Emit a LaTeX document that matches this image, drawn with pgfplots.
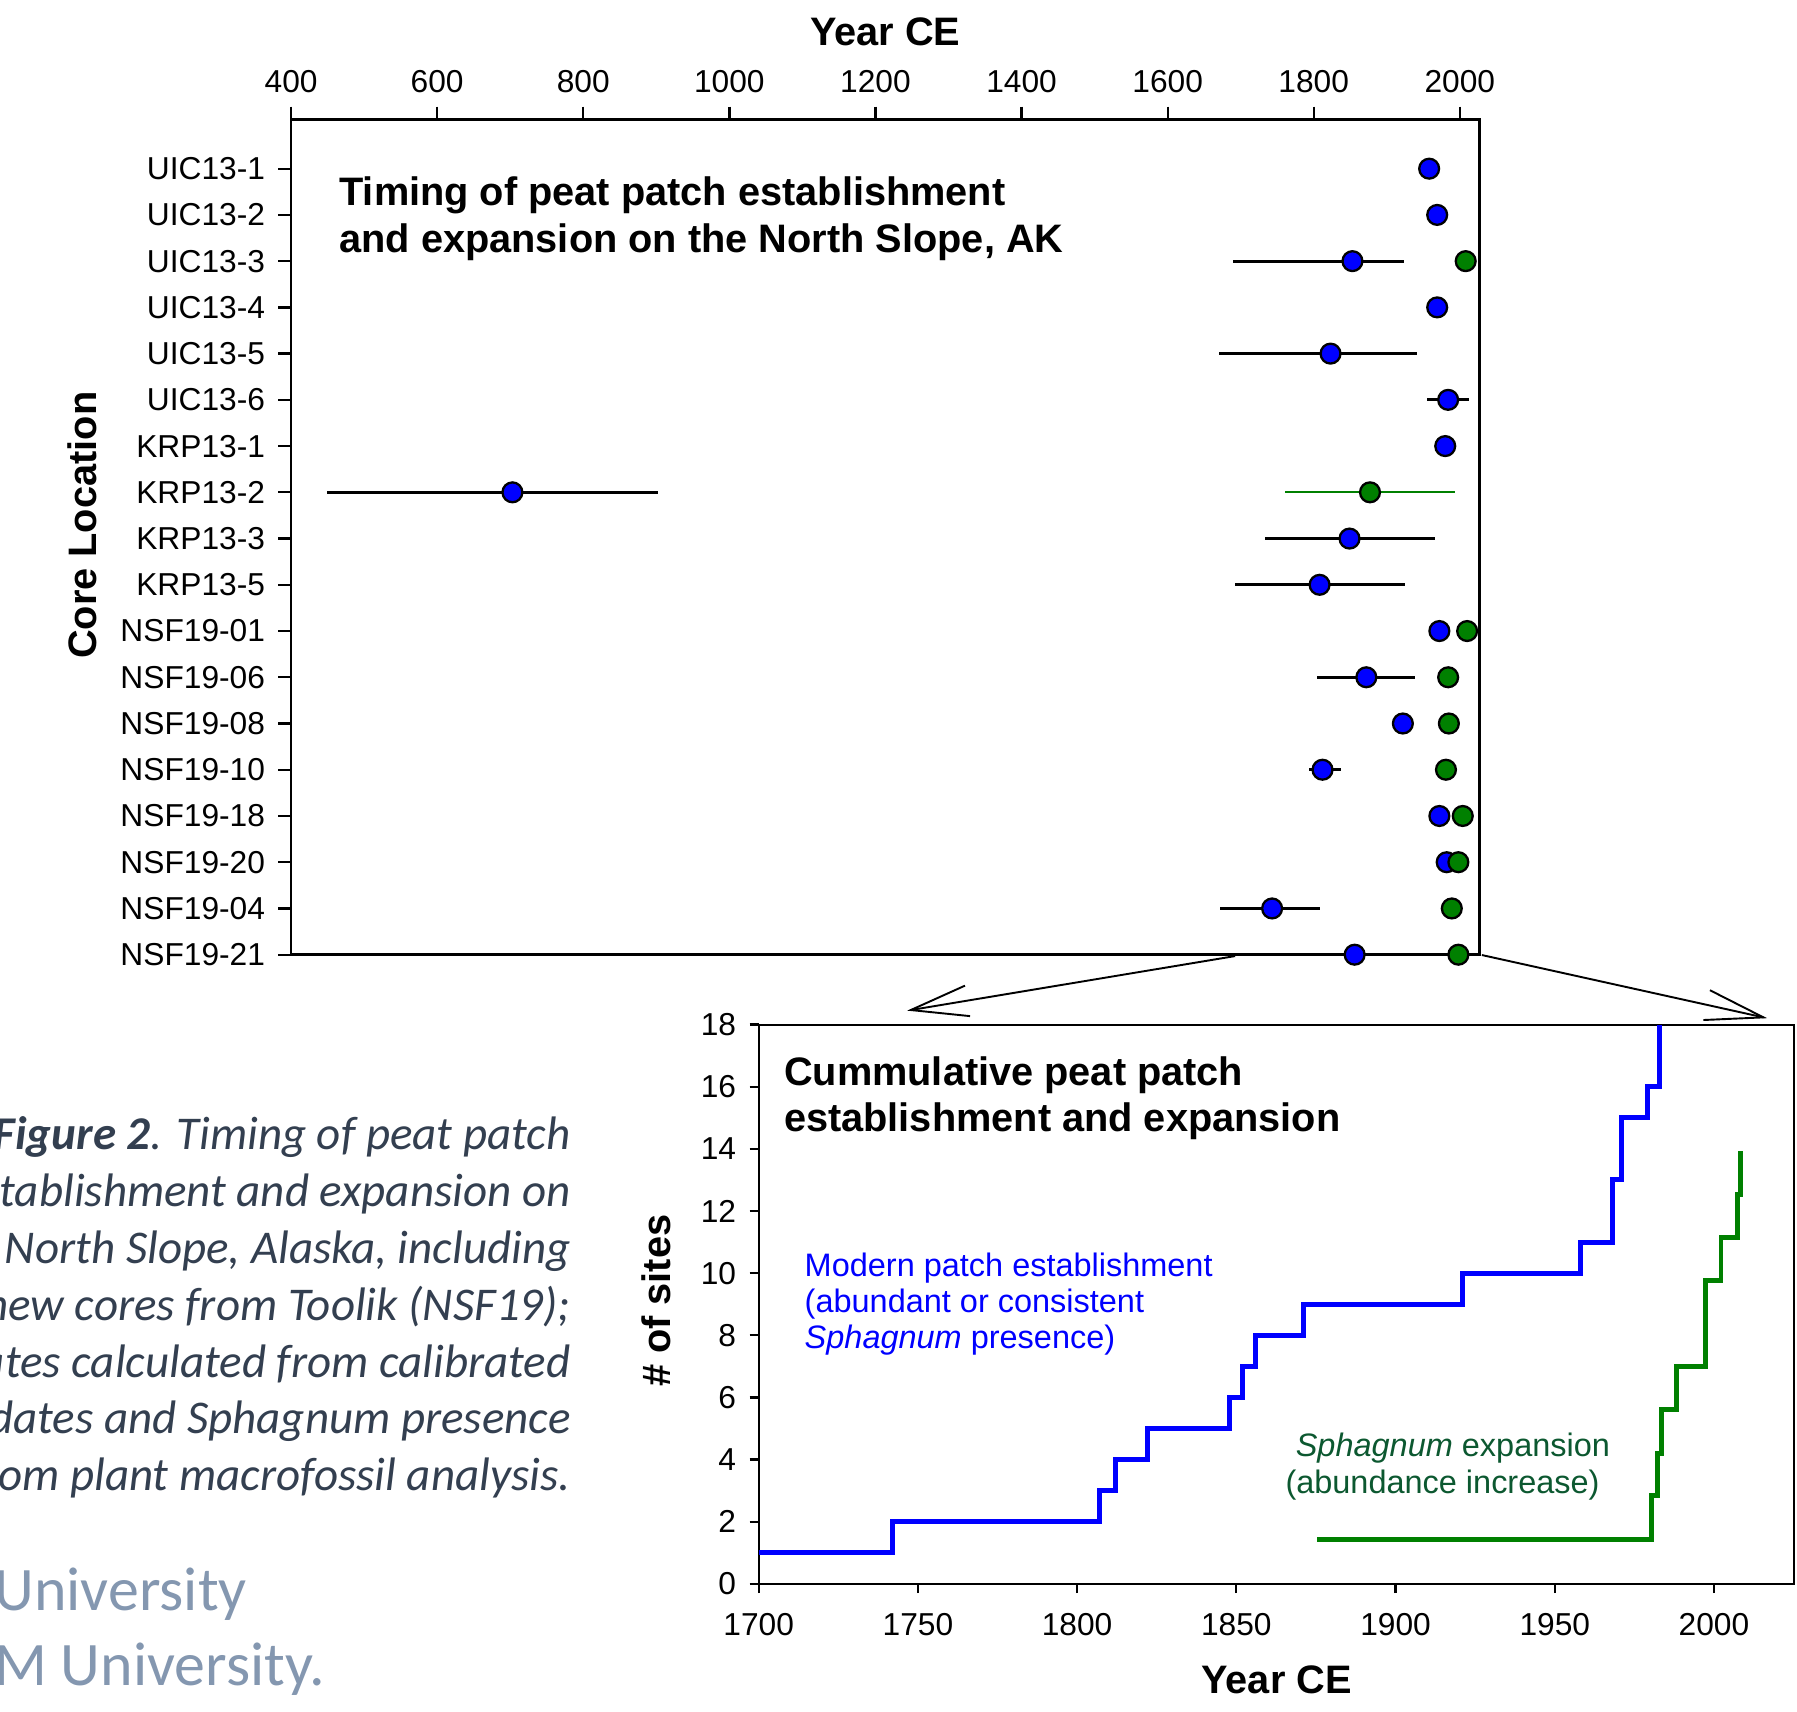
\documentclass[border=0pt]{standalone}
\usepackage{fontspec}
\setmainfont{Liberation Sans}
\newfontfamily\calibri{Carlito}
\usepackage{pgfplots}
\pgfplotsset{compat=1.18}

\definecolor{ptblue}{RGB}{0,0,255}
\definecolor{ptgreen}{RGB}{0,128,0}
\definecolor{txtgreen}{RGB}{12,88,48}
\definecolor{capgray}{RGB}{51,63,80}
\definecolor{unigray}{RGB}{132,151,176}

\pgfplotsset{
  /pgf/number format/.cd, 1000 sep={}, assume math mode=true,
}
\pgfplotsset{
  peat/.style={
    scale only axis, clip=false,
    tick align=outside,
    tick label style={font=\fontsize{8.3}{10}\selectfont},
    label style={font=\fontsize{10.4}{12}\selectfont\bfseries},
    every tick/.style={black, line width=0.6pt},
  },
  est/.style={only marks, mark=*, mark size=2.6pt,
    mark options={fill=ptblue, draw=black, line width=0.6pt}},
  exp/.style={only marks, mark=*, mark size=2.6pt,
    mark options={fill=ptgreen, draw=black, line width=0.6pt}},
}

\begin{document}
\begin{tikzpicture}
\useasboundingbox (0,0) rectangle (470.4pt,-447.9pt);
\begin{scope}
\clip (0,0) rectangle (470.4pt,-447.9pt);

% ---- top panel: dates per core ----
\begin{axis}[peat,
  at={(76.2pt,-31.2pt)}, anchor=north west,
  width=311.1pt, height=218.7pt,
  xmin=400, xmax=2027, ymin=-17, ymax=1.07,
  xtick={400,600,...,2000},
  xtick pos=right, xticklabel pos=right,
  ytick={0,-1,...,-17}, ytick pos=left,
  yticklabels={UIC13-1,UIC13-2,UIC13-3,UIC13-4,UIC13-5,UIC13-6,
    KRP13-1,KRP13-2,KRP13-3,KRP13-5,NSF19-01,NSF19-06,NSF19-08,
    NSF19-10,NSF19-18,NSF19-20,NSF19-04,NSF19-21},
  major tick length=3.3pt,
  axis line style={line width=0.7pt},
  xlabel={Year CE},
  xlabel style={at={(axis description cs:0.5,1.104)}, anchor=center},
  ylabel={Core Location},
  ylabel style={at={(axis description cs:-0.1755,0.514)}, anchor=center},
]
% error bars (calibrated age ranges)
\addplot[only marks, mark=none, error bars/.cd, x dir=both, x explicit,
  error mark=none, error bar style={draw=black, line width=0.8pt}]
  coordinates {
  (1853,-2)  += (70,0)  -= (163,0)
  (1823,-4)  += (119,0) -= (153,0)
  (1984,-5)  += (28,0)  -= (29,0)
  (703,-7)   += (199,0) -= (254,0)
  (1849,-8)  += (117,0) -= (116,0)
  (1808,-9)  += (117,0) -= (116,0)
  (1872,-11) += (67,0)  -= (67,0)
  (1812,-13) += (25,0)  -= (18,0)
  (1743,-16) += (66,0)  -= (72,0)
};
\addplot[only marks, mark=none, error bars/.cd, x dir=both, x explicit,
  error mark=none, error bar style={draw=ptgreen, line width=0.5pt}]
  coordinates {(1877,-7) += (117,0) -= (116,0)};
% modern patch establishment
\addplot[est] coordinates {
  (1958,0) (1969,-1) (1853,-2) (1969,-3) (1823,-4) (1984,-5)
  (1980,-6) (703,-7) (1849,-8) (1808,-9) (1972,-10) (1872,-11)
  (1922,-12) (1812,-13) (1972,-14) (1982,-15) (1743,-16) (1856,-17)
};
% Sphagnum expansion
\addplot[exp] coordinates {
  (2008,-2) (1877,-7) (2010,-10) (1984,-11) (1985,-12) (1981,-13)
  (2004,-14) (1998,-15) (1989,-16) (1998,-17)
};
\end{axis}

% ---- bottom panel: cumulative counts ----
\begin{axis}[peat,
  at={(198.6pt,-268.2pt)}, anchor=north west,
  width=270.9pt, height=146.4pt,
  xmin=1700, xmax=2025, ymin=0, ymax=18,
  xtick={1700,1750,...,2000}, ytick={0,2,...,18},
  xtick pos=left, ytick pos=left,
  xticklabel style={yshift=-1.8pt},
  major tick length=2.4pt,
  axis line style={line width=0.5pt},
  xlabel={Year CE},
  xlabel style={at={(axis description cs:0.5005,-0.172)}, anchor=center},
  ylabel={\# of sites},
  ylabel style={at={(axis description cs:-0.0986,0.506)}, anchor=center},
]
\addplot[const plot, ptblue, line width=1.3pt] coordinates {
  (1700,1) (1742,2) (1807,3) (1812,4) (1822,5) (1848,6) (1852,7)
  (1856,8) (1871,9) (1921,10) (1958,11) (1968,13) (1971,15)
  (1979,16) (1983,18)
};
\addplot[const plot, ptgreen, line width=1.3pt] coordinates {
  (1875.4,1.43) (1980.4,2.83) (1982.3,4.21) (1983.5,5.62) (1988.3,7.0)
  (1997.4,9.76) (2002.2,11.16) (2007.4,12.53) (2008.4,13.94)
};
\end{axis}

% ---- annotations, in reference pixel units ----
\begin{scope}[x=0.3pt, y=-0.3pt, inner sep=0pt]
  \node[anchor=base west, font=\fontsize{10.4}{12}\selectfont\bfseries]
    at (295.5,179.5) {Timing of peat patch establishment};
  \node[anchor=base west, font=\fontsize{10.4}{12}\selectfont\bfseries]
    at (295.5,220.7) {and expansion on the North Slope, AK};
  \node[anchor=base west, font=\fontsize{10.4}{12}\selectfont\bfseries]
    at (683.5,947.5) {Cummulative peat patch};
  \node[anchor=base west, font=\fontsize{10.4}{12}\selectfont\bfseries]
    at (683.5,987.5) {establishment and expansion};

  \begin{scope}[font=\fontsize{8.5}{10}\selectfont, text=ptblue]
    \node[anchor=base west] at (701.5,1114) {Modern patch establishment};
    \node[anchor=base west] at (701.5,1145) {(abundant or consistent};
    \node[anchor=base west] at (701.5,1176.5) {\textit{Sphagnum} presence)};
  \end{scope}
  \begin{scope}[font=\fontsize{8.5}{10}\selectfont, text=txtgreen]
    \node[anchor=base west] at (1130,1270.5) {\textit{Sphagnum} expansion};
    \node[anchor=base west] at (1121,1303.5) {(abundance increase)};
  \end{scope}

  % zoom connectors
  \draw[line width=0.5pt] (1077.7,834.2) -- (794.7,881.3);
  \draw[line width=0.5pt] (842,860) -- (794.7,881.3) -- (846.4,886.6);
  \draw[line width=0.5pt] (1293,833.3) -- (1538.7,887.7);
  \draw[line width=0.5pt] (1492,864) -- (1538.7,887.7) -- (1486.3,890);

  % slide caption, cut at the left edge as in the source
  \begin{scope}[font=\calibri\itshape\fontsize{12.3}{14}\selectfont, text=capgray]
    \node[anchor=base east] at (498.5,1002.7) {\textbf{Figure 2}. Timing of peat patch};
    \node[anchor=base east] at (498.5,1052.4) {establishment and expansion on};
    \node[anchor=base east] at (498.5,1102.1) {the North Slope, Alaska, including};
    \node[anchor=base east] at (498.5,1151.8) {new cores from Toolik (NSF19);};
    \node[anchor=base east] at (498.5,1201.5) {dates calculated from calibrated};
    \node[anchor=base east] at (498.5,1251.2) {dates and Sphagnum presence};
    \node[anchor=base east] at (498.5,1300.9) {from plant macrofossil analysis.};
  \end{scope}
  \begin{scope}[font=\calibri\fontsize{16.2}{19}\selectfont, text=unigray]
    \node[anchor=base east] at (216,1405) {University};
    \node[anchor=base east] at (284,1471) {A\&M University.};
  \end{scope}
\end{scope}
\end{scope}
\end{tikzpicture}
\end{document}
